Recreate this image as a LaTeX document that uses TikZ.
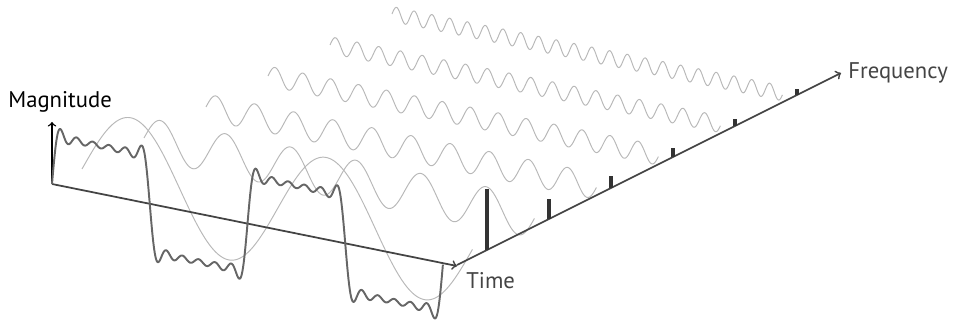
\documentclass[tikz,border=0pt]{standalone}
\usepackage{fontspec}
\setmainfont{PT Sans}
\definecolor{axisgray}{HTML}{444444}
\definecolor{wavegray}{HTML}{B8B8B8}
\definecolor{sqgray}{HTML}{666666}
\definecolor{spikegray}{HTML}{333333}
\tikzset{
  axisline/.style={draw=axisgray, line width=1pt, ->},
  harmonic/.style={draw=wavegray, line width=0.55pt},
  squarewave/.style={draw=sqgray, line width=1.1pt, line join=round},
  spike/.style={draw=spikegray, line width=2.2pt},
  axislabel/.style={text=axisgray, font=\fontsize{12.9}{15}\selectfont, inner sep=0pt},
}
\begin{document}
\begin{tikzpicture}[x=0.02cm,y=-0.02cm]
\useasboundingbox (0,0) rectangle (954,320);
\coordinate (O) at (52,184);
\coordinate (M) at (52,122);
\coordinate (T) at (457,266);
\coordinate (F0) at (457,265);
\coordinate (F) at (841,73);
% odd harmonics 1,3,...,11
\foreach \k in {1,...,6}{
  \pgfmathsetmacro{\n}{2*\k-1}
  \pgfmathsetmacro{\amp}{61.1/\n+0.4*(\k-1)}
  \draw[harmonic, domain=0:2, samples=400]
    plot ({82+62*(\k-1)+195.5*\x}, {169-31*(\k-1)+39.7*\x-\amp*sin(360*\n*\x)});
}
% axes
\draw[axisline] (O) -- (T);
\draw[axisline] (F0) -- (F);
\draw[->, line width=0.8pt, black] (O) -- (M);
% sum of the harmonics
\draw[squarewave, domain=0:2, samples=800]
  plot ({52+195.5*\x}, {184+39.7*\x-61.1*(sin(360*\x)+sin(1080*\x)/3+sin(1800*\x)/5+sin(2520*\x)/7+sin(3240*\x)/9+sin(3960*\x)/11)});
% spectrum
\foreach \k/\h in {1/61,2/20.4,3/12.2,4/8.7,5/6.8,6/5.6}{
  \coordinate (s\k) at ({487+62*(\k-1)},{250-31*(\k-1)});
  \draw[spike] (s\k) -- ++(0,-\h);
}
\node[axislabel, text=black, anchor=base west] (mag) at (8,108) {Magnitude};
\node[axislabel, anchor=base west] (time) at (466,289) {Time};
\node[axislabel, anchor=west] (freq) at (848,73) {Frequency};
\end{tikzpicture}
\end{document}
